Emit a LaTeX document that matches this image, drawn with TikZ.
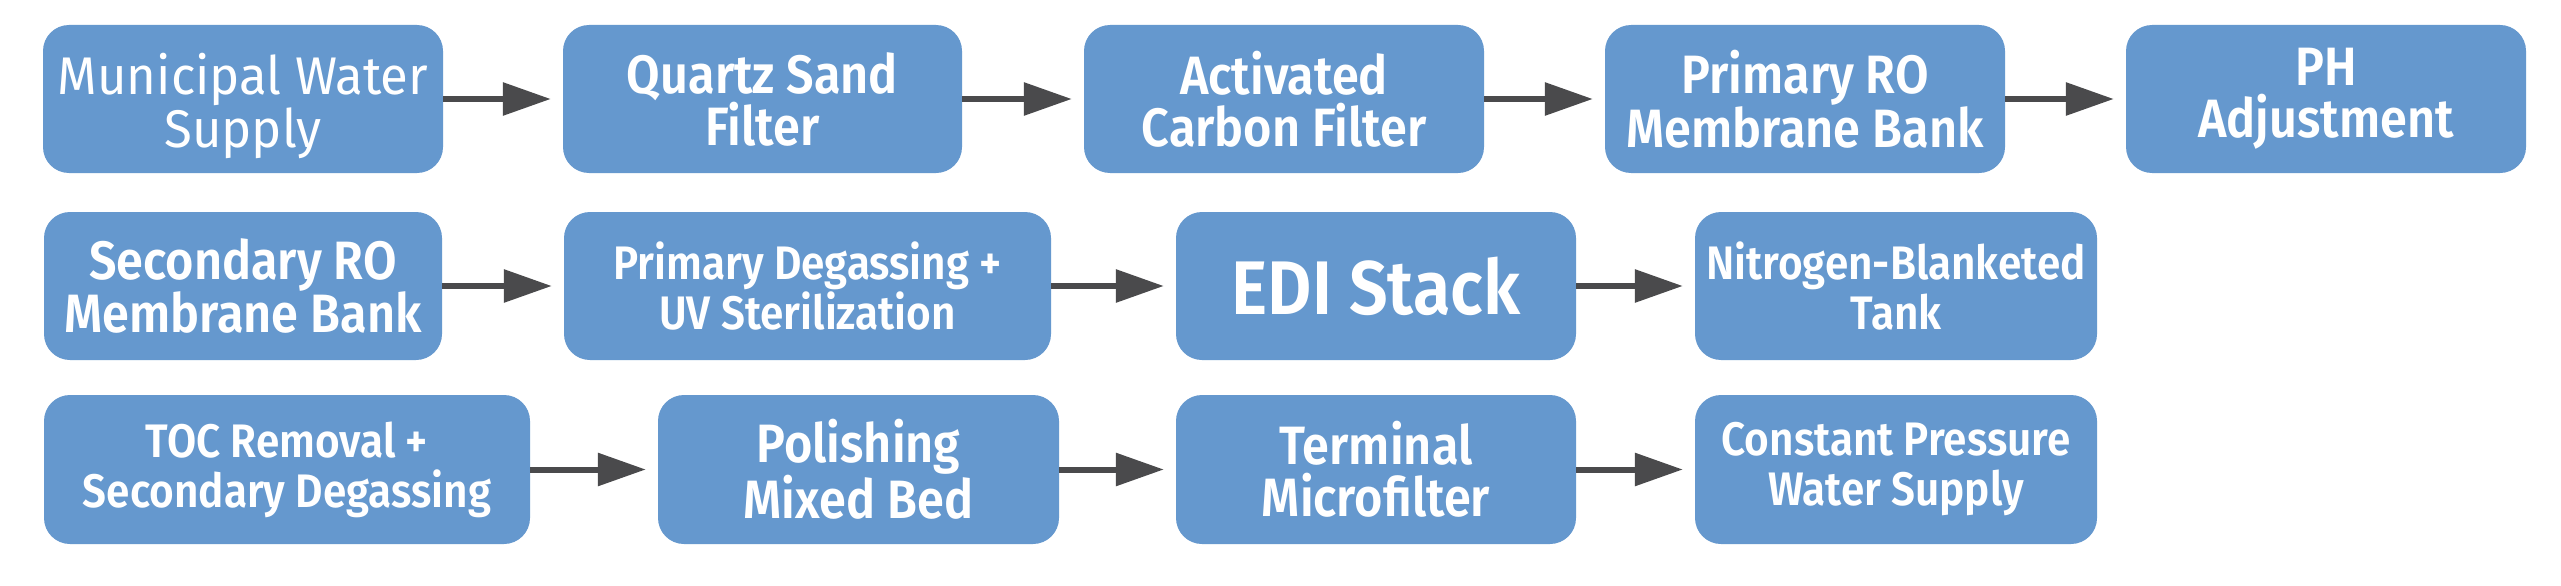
\documentclass[tikz,border=0pt]{standalone}
\usepackage{fontspec}
\setmainfont{Fira Sans}
\newfontfamily\labsb[FakeStretch=0.9]{Fira Sans SemiBold}
\newfontfamily\labrg[FakeStretch=0.96]{Fira Sans}
\usetikzlibrary{arrows.meta}
\definecolor{boxblue}{RGB}{101,152,206}
\definecolor{arrowgray}{RGB}{74,74,76}
\tikzset{
  box/.style={fill=boxblue, rounded corners=26pt, inner sep=0pt, align=center,
    text=white, font=\labsb\fontsize{54}{52}\selectfont},
  smalltxt/.style={font=\labsb\fontsize{47}{50}\selectfont},
  bigtxt/.style={font=\labsb\fontsize{76}{76}\selectfont},
  flow/.style={draw=arrowgray, line width=6pt, shorten >=12pt,
    -{Triangle[length=48pt,width=32pt]}}
}
\begin{document}
\begin{tikzpicture}[x=1pt,y=-1pt]
\useasboundingbox[fill=white] (0,0) rectangle (2561,586);
% row 1
\node[box, minimum width=400pt, minimum height=148pt, font=\labrg\fontsize{53}{53}\selectfont] (b1) at (243,99) {\rule{0pt}{56pt}Municipal Water\\Supply};
\node[box, minimum width=399pt, minimum height=148pt] (b2) at (762.5,99) {Quartz Sand\\Filter};
\node[box, minimum width=400pt, minimum height=148pt] (b3) at (1284,99) {Activated\\Carbon Filter};
\node[box, minimum width=400pt, minimum height=148pt] (b4) at (1805,99) {Primary RO\\Membrane Bank};
\node[box, minimum width=400pt, minimum height=148pt] (b5) at (2326,99) {PH\\Adjustment};
% row 2
\node[box, minimum width=398pt, minimum height=148pt] (b6) at (243,286) {Secondary RO\\Membrane Bank};
\node[box, smalltxt, minimum width=487pt, minimum height=148pt] (b7) at (807.5,286) {Primary Degassing +\\UV Sterilization};
\node[box, bigtxt, minimum width=400pt, minimum height=148pt] (b8) at (1376,286) {EDI Stack};
\node[box, smalltxt, minimum width=402pt, minimum height=148pt] (b9) at (1896,286) {Nitrogen-Blanketed\\Tank};
% row 3
\node[box, smalltxt, minimum width=486pt, minimum height=149pt] (b10) at (287,469.5) {TOC Removal +\\Secondary Degassing};
\node[box, minimum width=401pt, minimum height=149pt] (b11) at (858.5,469.5) {Polishing\\Mixed Bed};
\node[box, minimum width=400pt, minimum height=149pt] (b12) at (1376,469.5) {Terminal\\Microfilter};
\node[box, smalltxt, minimum width=402pt, minimum height=149pt] (b13) at (1896,469.5) {Constant Pressure\\Water Supply};
% arrows
\draw[flow] (b1) -- (b2);
\draw[flow] (b2) -- (b3);
\draw[flow] (b3) -- (b4);
\draw[flow] (b4) -- (b5);
\draw[flow] (b6) -- (b7);
\draw[flow] (b7) -- (b8);
\draw[flow] (b8) -- (b9);
\draw[flow] (b10) -- (b11);
\draw[flow] (b11) -- (b12);
\draw[flow] (b12) -- (b13);
\end{tikzpicture}
\end{document}
